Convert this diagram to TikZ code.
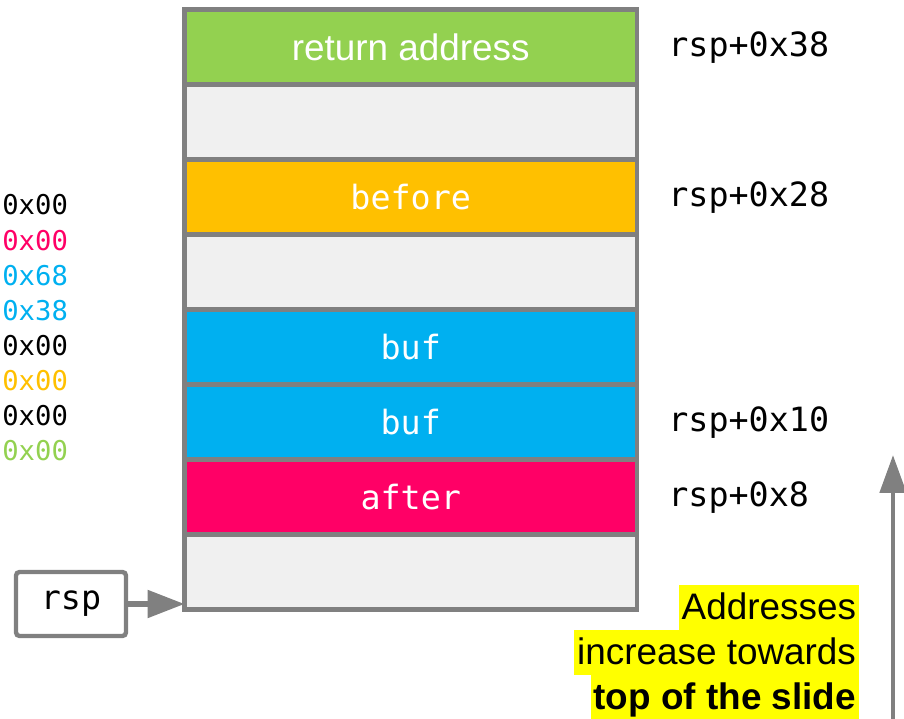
\documentclass[tikz,border=0pt]{standalone}
\usepackage{fontspec}
\setmainfont{Liberation Sans}
\setmonofont{DejaVu Sans Mono}
\usetikzlibrary{positioning,arrows.meta}
\definecolor{stackline}{HTML}{808080}
\definecolor{slotgray}{HTML}{F0F0F0}
\definecolor{retgreen}{HTML}{93D150}
\definecolor{befyellow}{HTML}{FFC000}
\definecolor{bufblue}{HTML}{00B0F0}
\definecolor{aftpink}{HTML}{FF0066}
\definecolor{hilite}{HTML}{FFFF00}
\def\mono{\ttfamily\fontsize{19pt}{22pt}\selectfont}
\def\smallmono{\ttfamily\fontsize{15.5pt}{18pt}\selectfont}
\def\big{\fontsize{21pt}{25pt}\selectfont}

\begin{document}
\begin{tikzpicture}[x=0.02cm, y=-0.02cm, slot/.style={draw=stackline, line width=2.5pt, fill=slotgray, minimum width=9.05cm, minimum height=1.5cm, inner sep=0pt, outer sep=0pt, text=white, font=\mono}, offset/.style={anchor=base west, inner sep=0pt, font=\mono}, byte/.style={anchor=west, inner sep=0pt, font=\smallmono}, note/.style={anchor=base east, fill=hilite, inner xsep=1.5pt, inner ysep=0pt, text height=19.8pt, text depth=5.7pt, font=\big}, arr/.style={draw=stackline, line width=3pt, -{Triangle[length=0.74cm, width=0.54cm]}}]
    \useasboundingbox (0,0) rectangle (904,719);

    % stack slots, top to bottom
    \node[slot, fill=retgreen, font=\big] (ret) at (410.75, 47) {return address};
    \node[slot, below=0pt of ret] (gap1) {};
    \node[slot, fill=befyellow, below=0pt of gap1] (before) {before};
    \node[slot, below=0pt of before] (gap2) {};
    \node[slot, fill=bufblue, below=0pt of gap2] (bufhi) {buf};
    \node[slot, fill=bufblue, below=0pt of bufhi] (buflo) {buf};
    \node[slot, fill=aftpink, below=0pt of buflo] (after) {after};
    \node[slot, below=0pt of after] (gap3) {};

    % offsets from rsp
    \foreach \name/\y/\txt in {ret/57/0x38, before/207/0x28, buflo/432/0x10, after/507/0x8} {
        \node[offset] (off-\name) at (668, \y) {rsp+\txt};
    }

    % bytes written
    \foreach \val/\col [count=\i] in {00/black, 00/aftpink, 68/bufblue, 38/bufblue, 00/black, 00/befyellow, 00/black, 00/retgreen} {
        \node[byte, text=\col] (byte\i) at (2, {205+35.1*(\i-1)}) {0x\val};
    }

    % stack pointer
    \node[draw=stackline, line width=2.5pt, rounded corners=2pt, fill=white, minimum width=2.2cm, minimum height=1.28cm, inner sep=0pt, font=\mono] (rspbox) at (71, 604) {rsp};
    \draw[arr] (rspbox.east) -- (rspbox.east -| gap3.west);

    % direction of growth
    \node[note] (note1) at (859, 620) {Addresses};
    \node[note] (note2) at (859, 665) {increase towards};
    \node[note] (note3) at (859, 710) {\bfseries top of the slide};
    \coordinate (upfrom) at (893, 719);
    \coordinate (upto) at (893, 455);
    \draw[arr, line width=2.8pt, -{Triangle[length=0.76cm, width=0.52cm]}] (upfrom) -- (upto);
\end{tikzpicture}
\end{document}
